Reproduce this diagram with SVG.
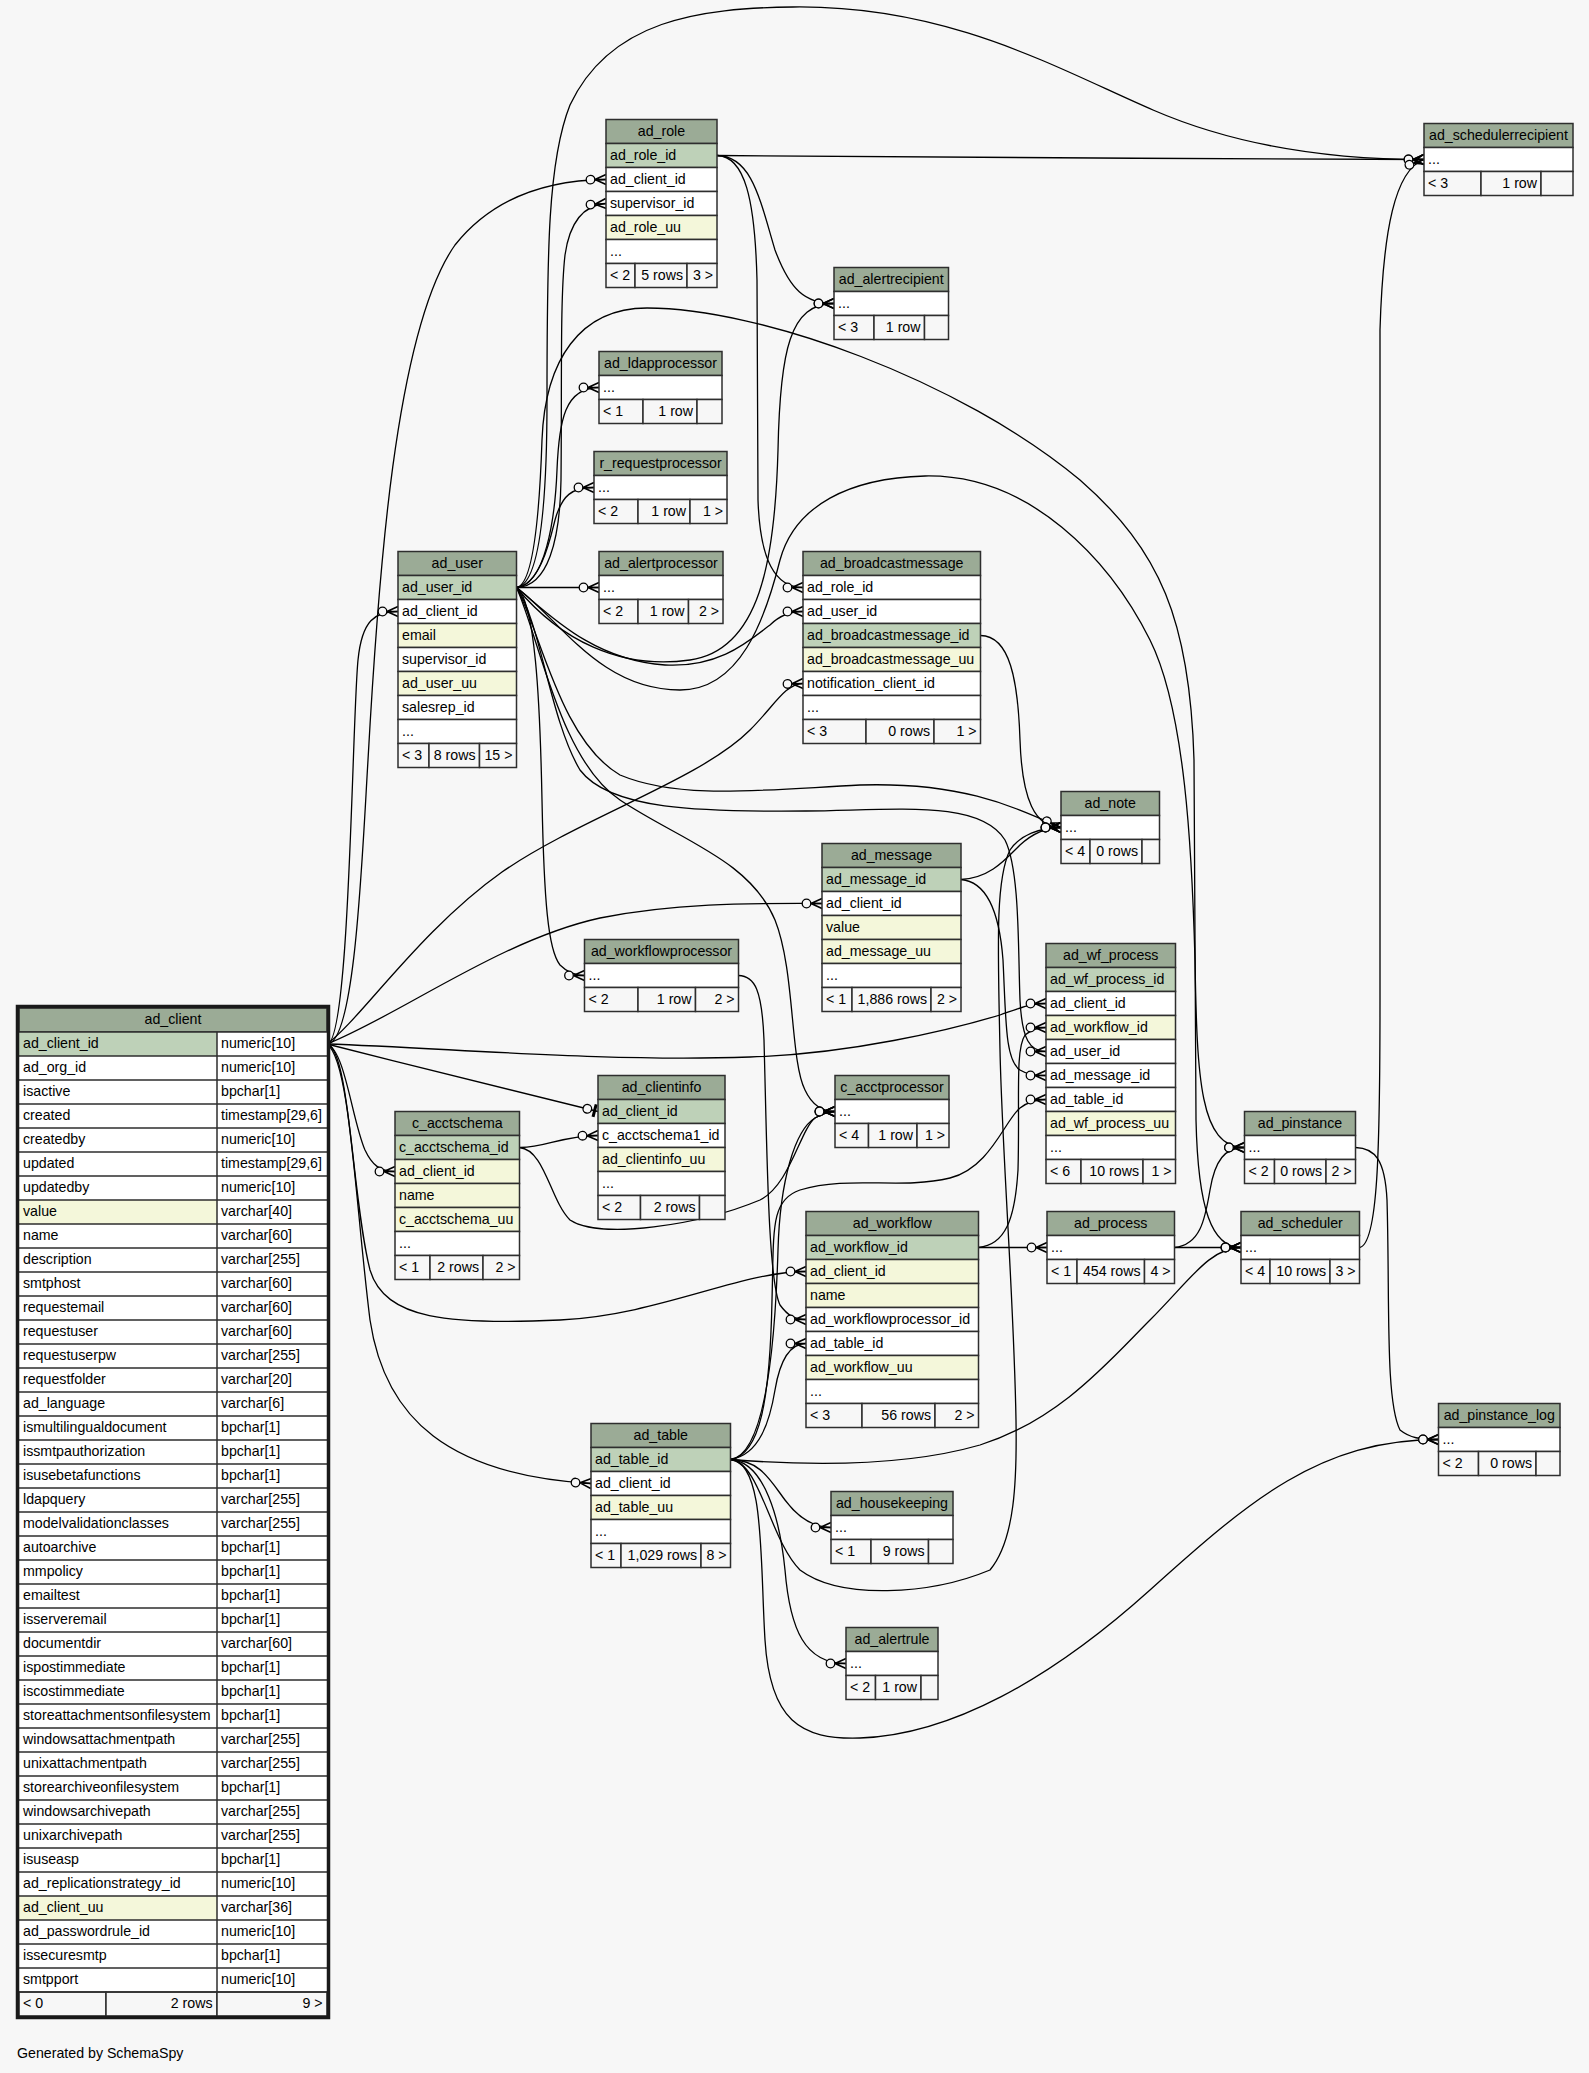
<svg xmlns="http://www.w3.org/2000/svg" width="1589" height="2073" viewBox="0 0 1589 2073">
<defs>
<style>
.h{fill:#9bab96;stroke:#2e2e2e;stroke-width:1.5}
.pk{fill:#bed1b8;stroke:#2e2e2e;stroke-width:1.5}
.ix{fill:#f4f7da;stroke:#2e2e2e;stroke-width:1.5}
.c{fill:#ffffff;stroke:#2e2e2e;stroke-width:1.5}
.f{fill:#f7f7f7;stroke:#2e2e2e;stroke-width:1.5}
.ln{fill:none;stroke:#2e2e2e;stroke-width:1.5}
text{font-family:"Liberation Sans",Arial,Helvetica,sans-serif;font-size:14.2px;fill:#000}
.m{text-anchor:middle}
.e{text-anchor:end}
#connectors path{fill:none;stroke:#000;stroke-width:1.3;marker-end:url(#crow)}
#connectors path.one{marker-end:url(#tee)}
</style>
<marker id="crow" markerUnits="userSpaceOnUse" viewBox="-22 -8 24 16" refX="0" refY="0" markerWidth="24" markerHeight="16" orient="auto">
<path d="M-11,0 L0,-5 M-11,0 L0,0 M-11,0 L0,5" fill="none" stroke="#000" stroke-width="1.6"/>
<circle cx="-15.5" cy="0" r="4.3" fill="#f7f7f7" stroke="#000" stroke-width="1.3"/>
</marker>
<marker id="tee" markerUnits="userSpaceOnUse" viewBox="-18 -8 20 16" refX="0" refY="0" markerWidth="20" markerHeight="16" orient="auto">
<path d="M-3.5,-6.5 L-3.5,6.5" stroke="#000" stroke-width="3"/>
<circle cx="-11" cy="0" r="4.3" fill="#f7f7f7" stroke="#000" stroke-width="1.3"/>
</marker>
</defs>
<rect x="0" y="0" width="1589" height="2073" fill="#f7f7f7"/>

<g id="connectors">
<path d="M327,1044 C 355,1044 362,860 368,760 C 378,580 395,330 455,245 C 495,195 550,180 606,179.5"/>
<path d="M327,1044 C 350,1044 352,720 358,660 C 362,620 375,611.5 398,611.5"/>
<path d="M327,1044 C 360,1020 420,930 502,872 C 580,818 700,780 750,730 C 775,705 785,684 803,683.5"/>
<path d="M327,1044 C 400,1015 500,940 600,918 C 680,902 760,903.5 822,903.5"/>
<path d="M327,1044 C 450,1048 600,1062 750,1057 C 850,1054 950,1030 1000,1015 C 1020,1008 1030,1003.5 1046,1003.5"/>
<path class="one" d="M327,1044 C 420,1068 520,1092 598,1111.5"/>
<path d="M327,1044 C 345,1050 352,1120 365,1150 C 372,1165 380,1171.5 395,1171.5"/>
<path d="M327,1044 C 350,1050 352,1200 370,1270 C 385,1320 450,1325 560,1320 C 660,1315 740,1271.5 806,1271.5"/>
<path d="M327,1044 C 350,1060 355,1200 370,1320 C 385,1420 450,1475 591,1483.5"/>
<path d="M516.5,587.5 C 548,587 560,540 561,480 C 562,380 560,300 565,255 C 570,220 585,205 606,203.5"/>
<path d="M516.5,587.5 C 540,585 547,500 547,400 C 547,250 548,160 570,105 C 610,20 700,8 793,7 C 950,5 1060,70 1153,110 C 1250,152 1350,159.5 1424,159.5"/>
<path d="M717,155.5 C 900,156 1200,159.5 1424,159.5"/>
<path d="M1359.5,1247.5 C 1378,1245 1380,1150 1380,1000 C 1380,700 1378,450 1380,330 C 1383,230 1395,170 1424,159.5"/>
<path d="M717,155.5 C 752,156 760,200 775,250 C 790,290 805,303.5 834,303.5"/>
<path d="M717,155.5 C 745,156 755,200 757,280 L 758,500 C 760,560 775,587.5 803,587.5"/>
<path d="M516.5,587.5 C 560,640 620,670 690,660 C 760,650 775,560 778,450 C 780,350 790,303.5 834,303.5"/>
<path d="M516.5,587.5 C 535,585 540,500 542,440 C 545,360 580,308 647,308 C 760,308 960,380 1080,480 C 1160,550 1190,620 1194,760 L 1196,1120 C 1198,1210 1212,1247.5 1241,1247.5"/>
<path d="M516.5,587.5 C 560,620 600,690 680,690 C 740,690 765,620 780,560 C 795,505 850,478 925,476 C 1030,474 1110,560 1150,640 C 1185,710 1192,850 1195,960 C 1197,1080 1200,1147.5 1244.5,1147.5"/>
<path d="M516.5,587.5 C 545,585 555,520 557,470 C 559,420 565,387.5 599,387.5"/>
<path d="M516.5,587.5 C 540,585 550,540 555,520 C 562,495 572,487.5 594,487.5"/>
<path d="M516.5,587.5 L 599,587.5"/>
<path d="M516.5,587.5 C 545,610 590,660 665,665 C 720,668 750,640 770,625 C 780,615 790,611.5 803,611.5"/>
<path d="M516.5,587.5 C 540,630 560,740 620,775 C 680,800 760,790 860,785 C 960,782 1010,805 1061,827.5"/>
<path d="M516.5,587.5 C 540,620 550,720 580,770 C 610,810 700,812 806,811 C 900,810 980,800 1005,840 C 1020,870 1018,950 1020,1000 C 1022,1040 1030,1051.5 1046,1051.5"/>
<path d="M516.5,587.5 C 540,640 560,760 620,800 C 680,840 750,860 775,920 C 795,970 790,1060 805,1090 C 812,1105 822,1111.5 835,1111.5"/>
<path d="M516.5,587.5 C 535,600 540,700 542,800 C 544,900 548,950 560,965 C 567,972 575,975.5 584.5,975.5"/>
<path d="M980.5,635.5 C 1010,636 1018,680 1020,740 C 1022,800 1035,827.5 1061,827.5"/>
<path d="M961,879.5 C 990,878 1005,860 1020,845 C 1032,834 1045,827.5 1061,827.5"/>
<path d="M961,879.5 C 990,882 1000,920 1003,960 C 1006,1020 1005,1060 1020,1070 C 1028,1075 1035,1075.5 1046,1075.5"/>
<path d="M978.5,1247.5 L 1047,1247.5"/>
<path d="M978.5,1247.5 C 1005,1245 1015,1220 1018,1170 C 1020,1100 1015,1050 1025,1035 C 1032,1029 1038,1027.5 1046,1027.5"/>
<path d="M730.5,1459.5 C 760,1462 770,1540 800,1570 C 840,1600 930,1595 990,1570 C 1015,1540 1017,1480 1016,1420 C 1014,1300 1002,1150 1000,1050 C 998,950 995,880 1010,850 C 1020,835 1040,827.5 1061,827.5"/>
<path d="M730.5,1459.5 C 760,1455 770,1400 772,1300 C 774,1230 770,1200 800,1190 C 850,1175 900,1190 950,1178 C 990,1168 1005,1120 1020,1108 C 1028,1102 1036,1099.5 1046,1099.5"/>
<path d="M730.5,1459.5 C 760,1455 770,1420 775,1390 C 780,1360 790,1343.5 806,1343.5"/>
<path d="M730.5,1459.5 C 765,1455 775,1350 778,1250 C 780,1180 795,1130 815,1118 C 822,1114 828,1111.5 835,1111.5"/>
<path d="M519.5,1147.5 C 545,1150 550,1200 570,1220 C 600,1240 700,1225 760,1200 C 790,1185 800,1130 815,1118 C 822,1114 828,1111.5 835,1111.5"/>
<path d="M519.5,1147.5 C 545,1148 560,1136 598,1135.5"/>
<path d="M738.5,975.5 C 755,976 762,990 764,1040 C 767,1150 768,1280 780,1305 C 788,1316 795,1319.5 806,1319.5"/>
<path d="M730.5,1459.5 C 760,1460 770,1480 785,1500 C 800,1520 815,1527.5 831,1527.5"/>
<path d="M730.5,1459.5 C 765,1462 780,1520 785,1570 C 790,1630 805,1663.5 846,1663.5"/>
<path d="M730.5,1459.5 C 800,1465 900,1468 980,1445 C 1060,1420 1110,1360 1150,1320 C 1190,1280 1210,1247.5 1241,1247.5"/>
<path d="M730.5,1459.5 C 765,1462 760,1560 765,1640 C 770,1720 800,1740 860,1738 C 950,1735 1050,1680 1150,1590 C 1250,1500 1320,1439.5 1438.5,1439.5"/>
<path d="M1174.5,1247.5 C 1200,1245 1205,1220 1210,1190 C 1215,1160 1225,1147.5 1244.5,1147.5"/>
<path d="M1174.5,1247.5 L 1241,1247.5"/>
<path d="M1355.5,1147.5 C 1375,1148 1385,1160 1387,1200 C 1390,1300 1385,1400 1400,1430 C 1410,1438 1420,1439.5 1438.5,1439.5"/>
</g>

<g id="ad_client">
<rect class="h" x="19" y="1008" width="308" height="24"/>
<text class="m" x="173" y="1024">ad_client</text>
<rect x="19" y="1032" width="308" height="960" fill="#ffffff"/>
<rect x="19" y="1032" width="198" height="24" fill="#bed1b8"/>
<rect x="19" y="1200" width="198" height="24" fill="#f4f7da"/>
<rect x="19" y="1896" width="198" height="24" fill="#f4f7da"/>
<rect class="f" x="19" y="1992" width="87" height="24"/>
<rect class="f" x="106" y="1992" width="111" height="24"/>
<rect class="f" x="217" y="1992" width="110" height="24"/>
<path class="ln" d="M19,1032H327M19,1056H327M19,1080H327M19,1104H327M19,1128H327M19,1152H327M19,1176H327M19,1200H327M19,1224H327M19,1248H327M19,1272H327M19,1296H327M19,1320H327M19,1344H327M19,1368H327M19,1392H327M19,1416H327M19,1440H327M19,1464H327M19,1488H327M19,1512H327M19,1536H327M19,1560H327M19,1584H327M19,1608H327M19,1632H327M19,1656H327M19,1680H327M19,1704H327M19,1728H327M19,1752H327M19,1776H327M19,1800H327M19,1824H327M19,1848H327M19,1872H327M19,1896H327M19,1920H327M19,1944H327M19,1968H327M19,1992H327M217,1032V1992"/>
<text x="23"><tspan x="23" y="1048">ad_client_id</tspan><tspan x="23" y="1072">ad_org_id</tspan><tspan x="23" y="1096">isactive</tspan><tspan x="23" y="1120">created</tspan><tspan x="23" y="1144">createdby</tspan><tspan x="23" y="1168">updated</tspan><tspan x="23" y="1192">updatedby</tspan><tspan x="23" y="1216">value</tspan><tspan x="23" y="1240">name</tspan><tspan x="23" y="1264">description</tspan><tspan x="23" y="1288">smtphost</tspan><tspan x="23" y="1312">requestemail</tspan><tspan x="23" y="1336">requestuser</tspan><tspan x="23" y="1360">requestuserpw</tspan><tspan x="23" y="1384">requestfolder</tspan><tspan x="23" y="1408">ad_language</tspan><tspan x="23" y="1432">ismultilingualdocument</tspan><tspan x="23" y="1456">issmtpauthorization</tspan><tspan x="23" y="1480">isusebetafunctions</tspan><tspan x="23" y="1504">ldapquery</tspan><tspan x="23" y="1528">modelvalidationclasses</tspan><tspan x="23" y="1552">autoarchive</tspan><tspan x="23" y="1576">mmpolicy</tspan><tspan x="23" y="1600">emailtest</tspan><tspan x="23" y="1624">isserveremail</tspan><tspan x="23" y="1648">documentdir</tspan><tspan x="23" y="1672">ispostimmediate</tspan><tspan x="23" y="1696">iscostimmediate</tspan><tspan x="23" y="1720">storeattachmentsonfilesystem</tspan><tspan x="23" y="1744">windowsattachmentpath</tspan><tspan x="23" y="1768">unixattachmentpath</tspan><tspan x="23" y="1792">storearchiveonfilesystem</tspan><tspan x="23" y="1816">windowsarchivepath</tspan><tspan x="23" y="1840">unixarchivepath</tspan><tspan x="23" y="1864">isuseasp</tspan><tspan x="23" y="1888">ad_replicationstrategy_id</tspan><tspan x="23" y="1912">ad_client_uu</tspan><tspan x="23" y="1936">ad_passwordrule_id</tspan><tspan x="23" y="1960">issecuresmtp</tspan><tspan x="23" y="1984">smtpport</tspan></text>
<text x="221"><tspan x="221" y="1048">numeric[10]</tspan><tspan x="221" y="1072">numeric[10]</tspan><tspan x="221" y="1096">bpchar[1]</tspan><tspan x="221" y="1120">timestamp[29,6]</tspan><tspan x="221" y="1144">numeric[10]</tspan><tspan x="221" y="1168">timestamp[29,6]</tspan><tspan x="221" y="1192">numeric[10]</tspan><tspan x="221" y="1216">varchar[40]</tspan><tspan x="221" y="1240">varchar[60]</tspan><tspan x="221" y="1264">varchar[255]</tspan><tspan x="221" y="1288">varchar[60]</tspan><tspan x="221" y="1312">varchar[60]</tspan><tspan x="221" y="1336">varchar[60]</tspan><tspan x="221" y="1360">varchar[255]</tspan><tspan x="221" y="1384">varchar[20]</tspan><tspan x="221" y="1408">varchar[6]</tspan><tspan x="221" y="1432">bpchar[1]</tspan><tspan x="221" y="1456">bpchar[1]</tspan><tspan x="221" y="1480">bpchar[1]</tspan><tspan x="221" y="1504">varchar[255]</tspan><tspan x="221" y="1528">varchar[255]</tspan><tspan x="221" y="1552">bpchar[1]</tspan><tspan x="221" y="1576">bpchar[1]</tspan><tspan x="221" y="1600">bpchar[1]</tspan><tspan x="221" y="1624">bpchar[1]</tspan><tspan x="221" y="1648">varchar[60]</tspan><tspan x="221" y="1672">bpchar[1]</tspan><tspan x="221" y="1696">bpchar[1]</tspan><tspan x="221" y="1720">bpchar[1]</tspan><tspan x="221" y="1744">varchar[255]</tspan><tspan x="221" y="1768">varchar[255]</tspan><tspan x="221" y="1792">bpchar[1]</tspan><tspan x="221" y="1816">varchar[255]</tspan><tspan x="221" y="1840">varchar[255]</tspan><tspan x="221" y="1864">bpchar[1]</tspan><tspan x="221" y="1888">numeric[10]</tspan><tspan x="221" y="1912">varchar[36]</tspan><tspan x="221" y="1936">numeric[10]</tspan><tspan x="221" y="1960">bpchar[1]</tspan><tspan x="221" y="1984">numeric[10]</tspan></text>
<text x="23" y="2008">&lt; 0</text><text class="e" x="212.5" y="2008">2 rows</text><text class="e" x="322.5" y="2008">9 &gt;</text>
<rect x="17.5" y="1006.5" width="311" height="1011" fill="none" stroke="#1a1a1a" stroke-width="3.5"/>
</g>

<g id="ad_role">
<rect class="h" x="606" y="119.5" width="111" height="24"/><text class="m" x="661.5" y="135.5">ad_role</text>
<rect class="pk" x="606" y="143.5" width="111" height="24"/><text x="610" y="159.5">ad_role_id</text>
<rect class="c" x="606" y="167.5" width="111" height="24"/><text x="610" y="183.5">ad_client_id</text>
<rect class="c" x="606" y="191.5" width="111" height="24"/><text x="610" y="207.5">supervisor_id</text>
<rect class="ix" x="606" y="215.5" width="111" height="24"/><text x="610" y="231.5">ad_role_uu</text>
<rect class="c" x="606" y="239.5" width="111" height="24"/><text x="610" y="255.5">...</text>
<rect class="f" x="606" y="263.5" width="29" height="24"/><rect class="f" x="635" y="263.5" width="52" height="24"/><rect class="f" x="687" y="263.5" width="30" height="24"/>
<text x="610" y="279.5">&lt; 2</text><text class="e" x="683" y="279.5">5 rows</text><text class="e" x="713" y="279.5">3 &gt;</text>
</g>

<g id="ad_ldapprocessor">
<rect class="h" x="599" y="351.5" width="123" height="24"/><text class="m" x="660.5" y="367.5">ad_ldapprocessor</text>
<rect class="c" x="599" y="375.5" width="123" height="24"/><text x="603" y="391.5">...</text>
<rect class="f" x="599" y="399.5" width="44" height="24"/><rect class="f" x="643" y="399.5" width="54" height="24"/><rect class="f" x="697" y="399.5" width="25" height="24"/>
<text x="603" y="415.5">&lt; 1</text><text class="e" x="693" y="415.5">1 row</text>
</g>

<g id="r_requestprocessor">
<rect class="h" x="594" y="451.5" width="133" height="24"/><text class="m" x="660.5" y="467.5">r_requestprocessor</text>
<rect class="c" x="594" y="475.5" width="133" height="24"/><text x="598" y="491.5">...</text>
<rect class="f" x="594" y="499.5" width="44" height="24"/><rect class="f" x="638" y="499.5" width="52" height="24"/><rect class="f" x="690" y="499.5" width="37" height="24"/>
<text x="598" y="515.5">&lt; 2</text><text class="e" x="686" y="515.5">1 row</text><text class="e" x="723" y="515.5">1 &gt;</text>
</g>

<g id="ad_alertprocessor">
<rect class="h" x="599" y="551.5" width="124" height="24"/><text class="m" x="661" y="567.5">ad_alertprocessor</text>
<rect class="c" x="599" y="575.5" width="124" height="24"/><text x="603" y="591.5">...</text>
<rect class="f" x="599" y="599.5" width="39" height="24"/><rect class="f" x="638" y="599.5" width="50.5" height="24"/><rect class="f" x="688.5" y="599.5" width="34.5" height="24"/>
<text x="603" y="615.5">&lt; 2</text><text class="e" x="684.5" y="615.5">1 row</text><text class="e" x="719" y="615.5">2 &gt;</text>
</g>

<g id="ad_user">
<rect class="h" x="398" y="551.5" width="118.5" height="24"/><text class="m" x="457.25" y="567.5">ad_user</text>
<rect class="pk" x="398" y="575.5" width="118.5" height="24"/><text x="402" y="591.5">ad_user_id</text>
<rect class="c" x="398" y="599.5" width="118.5" height="24"/><text x="402" y="615.5">ad_client_id</text>
<rect class="ix" x="398" y="623.5" width="118.5" height="24"/><text x="402" y="639.5">email</text>
<rect class="c" x="398" y="647.5" width="118.5" height="24"/><text x="402" y="663.5">supervisor_id</text>
<rect class="ix" x="398" y="671.5" width="118.5" height="24"/><text x="402" y="687.5">ad_user_uu</text>
<rect class="c" x="398" y="695.5" width="118.5" height="24"/><text x="402" y="711.5">salesrep_id</text>
<rect class="c" x="398" y="719.5" width="118.5" height="24"/><text x="402" y="735.5">...</text>
<rect class="f" x="398" y="743.5" width="31" height="24"/><rect class="f" x="429" y="743.5" width="50.5" height="24"/><rect class="f" x="479.5" y="743.5" width="37" height="24"/>
<text x="402" y="759.5">&lt; 3</text><text class="e" x="475.5" y="759.5">8 rows</text><text class="e" x="512.5" y="759.5">15 &gt;</text>
</g>

<g id="ad_broadcastmessage">
<rect class="h" x="803" y="551.5" width="177.5" height="24"/><text class="m" x="891.75" y="567.5">ad_broadcastmessage</text>
<rect class="c" x="803" y="575.5" width="177.5" height="24"/><text x="807" y="591.5">ad_role_id</text>
<rect class="c" x="803" y="599.5" width="177.5" height="24"/><text x="807" y="615.5">ad_user_id</text>
<rect class="pk" x="803" y="623.5" width="177.5" height="24"/><text x="807" y="639.5">ad_broadcastmessage_id</text>
<rect class="ix" x="803" y="647.5" width="177.5" height="24"/><text x="807" y="663.5">ad_broadcastmessage_uu</text>
<rect class="c" x="803" y="671.5" width="177.5" height="24"/><text x="807" y="687.5">notification_client_id</text>
<rect class="c" x="803" y="695.5" width="177.5" height="24"/><text x="807" y="711.5">...</text>
<rect class="f" x="803" y="719.5" width="63" height="24"/><rect class="f" x="866" y="719.5" width="68" height="24"/><rect class="f" x="934" y="719.5" width="46.5" height="24"/>
<text x="807" y="735.5">&lt; 3</text><text class="e" x="930" y="735.5">0 rows</text><text class="e" x="976.5" y="735.5">1 &gt;</text>
</g>

<g id="ad_alertrecipient">
<rect class="h" x="834" y="267.5" width="114.5" height="24"/><text class="m" x="891.25" y="283.5">ad_alertrecipient</text>
<rect class="c" x="834" y="291.5" width="114.5" height="24"/><text x="838" y="307.5">...</text>
<rect class="f" x="834" y="315.5" width="40" height="24"/><rect class="f" x="874" y="315.5" width="50.5" height="24"/><rect class="f" x="924.5" y="315.5" width="24" height="24"/>
<text x="838" y="331.5">&lt; 3</text><text class="e" x="920.5" y="331.5">1 row</text>
</g>

<g id="ad_schedulerrecipient">
<rect class="h" x="1424" y="123.5" width="149" height="24"/><text class="m" x="1498.5" y="139.5">ad_schedulerrecipient</text>
<rect class="c" x="1424" y="147.5" width="149" height="24"/><text x="1428" y="163.5">...</text>
<rect class="f" x="1424" y="171.5" width="57" height="24"/><rect class="f" x="1481" y="171.5" width="60" height="24"/><rect class="f" x="1541" y="171.5" width="32" height="24"/>
<text x="1428" y="187.5">&lt; 3</text><text class="e" x="1537" y="187.5">1 row</text>
</g>

<g id="ad_note">
<rect class="h" x="1061" y="791.5" width="98.5" height="24"/><text class="m" x="1110.25" y="807.5">ad_note</text>
<rect class="c" x="1061" y="815.5" width="98.5" height="24"/><text x="1065" y="831.5">...</text>
<rect class="f" x="1061" y="839.5" width="29" height="24"/><rect class="f" x="1090" y="839.5" width="52" height="24"/><rect class="f" x="1142" y="839.5" width="17.5" height="24"/>
<text x="1065" y="855.5">&lt; 4</text><text class="e" x="1138" y="855.5">0 rows</text>
</g>

<g id="ad_message">
<rect class="h" x="822" y="843.5" width="139" height="24"/><text class="m" x="891.5" y="859.5">ad_message</text>
<rect class="pk" x="822" y="867.5" width="139" height="24"/><text x="826" y="883.5">ad_message_id</text>
<rect class="c" x="822" y="891.5" width="139" height="24"/><text x="826" y="907.5">ad_client_id</text>
<rect class="ix" x="822" y="915.5" width="139" height="24"/><text x="826" y="931.5">value</text>
<rect class="ix" x="822" y="939.5" width="139" height="24"/><text x="826" y="955.5">ad_message_uu</text>
<rect class="c" x="822" y="963.5" width="139" height="24"/><text x="826" y="979.5">...</text>
<rect class="f" x="822" y="987.5" width="30" height="24"/><rect class="f" x="852" y="987.5" width="79" height="24"/><rect class="f" x="931" y="987.5" width="30" height="24"/>
<text x="826" y="1003.5">&lt; 1</text><text class="e" x="927" y="1003.5">1,886 rows</text><text class="e" x="957" y="1003.5">2 &gt;</text>
</g>

<g id="ad_wf_process">
<rect class="h" x="1046" y="943.5" width="129.5" height="24"/><text class="m" x="1110.75" y="959.5">ad_wf_process</text>
<rect class="pk" x="1046" y="967.5" width="129.5" height="24"/><text x="1050" y="983.5">ad_wf_process_id</text>
<rect class="c" x="1046" y="991.5" width="129.5" height="24"/><text x="1050" y="1007.5">ad_client_id</text>
<rect class="ix" x="1046" y="1015.5" width="129.5" height="24"/><text x="1050" y="1031.5">ad_workflow_id</text>
<rect class="c" x="1046" y="1039.5" width="129.5" height="24"/><text x="1050" y="1055.5">ad_user_id</text>
<rect class="c" x="1046" y="1063.5" width="129.5" height="24"/><text x="1050" y="1079.5">ad_message_id</text>
<rect class="c" x="1046" y="1087.5" width="129.5" height="24"/><text x="1050" y="1103.5">ad_table_id</text>
<rect class="ix" x="1046" y="1111.5" width="129.5" height="24"/><text x="1050" y="1127.5">ad_wf_process_uu</text>
<rect class="c" x="1046" y="1135.5" width="129.5" height="24"/><text x="1050" y="1151.5">...</text>
<rect class="f" x="1046" y="1159.5" width="35" height="24"/><rect class="f" x="1081" y="1159.5" width="62" height="24"/><rect class="f" x="1143" y="1159.5" width="32.5" height="24"/>
<text x="1050" y="1175.5">&lt; 6</text><text class="e" x="1139" y="1175.5">10 rows</text><text class="e" x="1171.5" y="1175.5">1 &gt;</text>
</g>

<g id="ad_pinstance">
<rect class="h" x="1244.5" y="1111.5" width="111" height="24"/><text class="m" x="1300" y="1127.5">ad_pinstance</text>
<rect class="c" x="1244.5" y="1135.5" width="111" height="24"/><text x="1248.5" y="1151.5">...</text>
<rect class="f" x="1244.5" y="1159.5" width="30" height="24"/><rect class="f" x="1274.5" y="1159.5" width="51.5" height="24"/><rect class="f" x="1326" y="1159.5" width="29.5" height="24"/>
<text x="1248.5" y="1175.5">&lt; 2</text><text class="e" x="1322" y="1175.5">0 rows</text><text class="e" x="1351.5" y="1175.5">2 &gt;</text>
</g>

<g id="ad_process">
<rect class="h" x="1047" y="1211.5" width="127.5" height="24"/><text class="m" x="1110.75" y="1227.5">ad_process</text>
<rect class="c" x="1047" y="1235.5" width="127.5" height="24"/><text x="1051" y="1251.5">...</text>
<rect class="f" x="1047" y="1259.5" width="30" height="24"/><rect class="f" x="1077" y="1259.5" width="67.5" height="24"/><rect class="f" x="1144.5" y="1259.5" width="30" height="24"/>
<text x="1051" y="1275.5">&lt; 1</text><text class="e" x="1140.5" y="1275.5">454 rows</text><text class="e" x="1170.5" y="1275.5">4 &gt;</text>
</g>

<g id="ad_scheduler">
<rect class="h" x="1241" y="1211.5" width="118.5" height="24"/><text class="m" x="1300.25" y="1227.5">ad_scheduler</text>
<rect class="c" x="1241" y="1235.5" width="118.5" height="24"/><text x="1245" y="1251.5">...</text>
<rect class="f" x="1241" y="1259.5" width="29" height="24"/><rect class="f" x="1270" y="1259.5" width="60" height="24"/><rect class="f" x="1330" y="1259.5" width="29.5" height="24"/>
<text x="1245" y="1275.5">&lt; 4</text><text class="e" x="1326" y="1275.5">10 rows</text><text class="e" x="1355.5" y="1275.5">3 &gt;</text>
</g>

<g id="ad_workflowprocessor">
<rect class="h" x="584.5" y="939.5" width="154" height="24"/><text class="m" x="661.5" y="955.5">ad_workflowprocessor</text>
<rect class="c" x="584.5" y="963.5" width="154" height="24"/><text x="588.5" y="979.5">...</text>
<rect class="f" x="584.5" y="987.5" width="53.5" height="24"/><rect class="f" x="638" y="987.5" width="57.5" height="24"/><rect class="f" x="695.5" y="987.5" width="43" height="24"/>
<text x="588.5" y="1003.5">&lt; 2</text><text class="e" x="691.5" y="1003.5">1 row</text><text class="e" x="734.5" y="1003.5">2 &gt;</text>
</g>

<g id="ad_clientinfo">
<rect class="h" x="598" y="1075.5" width="127" height="24"/><text class="m" x="661.5" y="1091.5">ad_clientinfo</text>
<rect class="pk" x="598" y="1099.5" width="127" height="24"/><text x="602" y="1115.5">ad_client_id</text>
<rect class="c" x="598" y="1123.5" width="127" height="24"/><text x="602" y="1139.5">c_acctschema1_id</text>
<rect class="ix" x="598" y="1147.5" width="127" height="24"/><text x="602" y="1163.5">ad_clientinfo_uu</text>
<rect class="c" x="598" y="1171.5" width="127" height="24"/><text x="602" y="1187.5">...</text>
<rect class="f" x="598" y="1195.5" width="42.5" height="24"/><rect class="f" x="640.5" y="1195.5" width="59" height="24"/><rect class="f" x="699.5" y="1195.5" width="25.5" height="24"/>
<text x="602" y="1211.5">&lt; 2</text><text class="e" x="695.5" y="1211.5">2 rows</text>
</g>

<g id="c_acctschema">
<rect class="h" x="395" y="1111.5" width="124.5" height="24"/><text class="m" x="457.25" y="1127.5">c_acctschema</text>
<rect class="pk" x="395" y="1135.5" width="124.5" height="24"/><text x="399" y="1151.5">c_acctschema_id</text>
<rect class="ix" x="395" y="1159.5" width="124.5" height="24"/><text x="399" y="1175.5">ad_client_id</text>
<rect class="ix" x="395" y="1183.5" width="124.5" height="24"/><text x="399" y="1199.5">name</text>
<rect class="ix" x="395" y="1207.5" width="124.5" height="24"/><text x="399" y="1223.5">c_acctschema_uu</text>
<rect class="c" x="395" y="1231.5" width="124.5" height="24"/><text x="399" y="1247.5">...</text>
<rect class="f" x="395" y="1255.5" width="35" height="24"/><rect class="f" x="430" y="1255.5" width="53" height="24"/><rect class="f" x="483" y="1255.5" width="36.5" height="24"/>
<text x="399" y="1271.5">&lt; 1</text><text class="e" x="479" y="1271.5">2 rows</text><text class="e" x="515.5" y="1271.5">2 &gt;</text>
</g>

<g id="c_acctprocessor">
<rect class="h" x="835" y="1075.5" width="114" height="24"/><text class="m" x="892" y="1091.5">c_acctprocessor</text>
<rect class="c" x="835" y="1099.5" width="114" height="24"/><text x="839" y="1115.5">...</text>
<rect class="f" x="835" y="1123.5" width="33.5" height="24"/><rect class="f" x="868.5" y="1123.5" width="48.5" height="24"/><rect class="f" x="917" y="1123.5" width="32" height="24"/>
<text x="839" y="1139.5">&lt; 4</text><text class="e" x="913" y="1139.5">1 row</text><text class="e" x="945" y="1139.5">1 &gt;</text>
</g>

<g id="ad_workflow">
<rect class="h" x="806" y="1211.5" width="172.5" height="24"/><text class="m" x="892.25" y="1227.5">ad_workflow</text>
<rect class="pk" x="806" y="1235.5" width="172.5" height="24"/><text x="810" y="1251.5">ad_workflow_id</text>
<rect class="ix" x="806" y="1259.5" width="172.5" height="24"/><text x="810" y="1275.5">ad_client_id</text>
<rect class="ix" x="806" y="1283.5" width="172.5" height="24"/><text x="810" y="1299.5">name</text>
<rect class="c" x="806" y="1307.5" width="172.5" height="24"/><text x="810" y="1323.5">ad_workflowprocessor_id</text>
<rect class="c" x="806" y="1331.5" width="172.5" height="24"/><text x="810" y="1347.5">ad_table_id</text>
<rect class="ix" x="806" y="1355.5" width="172.5" height="24"/><text x="810" y="1371.5">ad_workflow_uu</text>
<rect class="c" x="806" y="1379.5" width="172.5" height="24"/><text x="810" y="1395.5">...</text>
<rect class="f" x="806" y="1403.5" width="56" height="24"/><rect class="f" x="862" y="1403.5" width="73" height="24"/><rect class="f" x="935" y="1403.5" width="43.5" height="24"/>
<text x="810" y="1419.5">&lt; 3</text><text class="e" x="931" y="1419.5">56 rows</text><text class="e" x="974.5" y="1419.5">2 &gt;</text>
</g>

<g id="ad_table">
<rect class="h" x="591" y="1423.5" width="139.5" height="24"/><text class="m" x="660.75" y="1439.5">ad_table</text>
<rect class="pk" x="591" y="1447.5" width="139.5" height="24"/><text x="595" y="1463.5">ad_table_id</text>
<rect class="c" x="591" y="1471.5" width="139.5" height="24"/><text x="595" y="1487.5">ad_client_id</text>
<rect class="ix" x="591" y="1495.5" width="139.5" height="24"/><text x="595" y="1511.5">ad_table_uu</text>
<rect class="c" x="591" y="1519.5" width="139.5" height="24"/><text x="595" y="1535.5">...</text>
<rect class="f" x="591" y="1543.5" width="30" height="24"/><rect class="f" x="621" y="1543.5" width="80" height="24"/><rect class="f" x="701" y="1543.5" width="29.5" height="24"/>
<text x="595" y="1559.5">&lt; 1</text><text class="e" x="697" y="1559.5">1,029 rows</text><text class="e" x="726.5" y="1559.5">8 &gt;</text>
</g>

<g id="ad_housekeeping">
<rect class="h" x="831" y="1491.5" width="122" height="24"/><text class="m" x="892" y="1507.5">ad_housekeeping</text>
<rect class="c" x="831" y="1515.5" width="122" height="24"/><text x="835" y="1531.5">...</text>
<rect class="f" x="831" y="1539.5" width="40" height="24"/><rect class="f" x="871" y="1539.5" width="57.5" height="24"/><rect class="f" x="928.5" y="1539.5" width="24.5" height="24"/>
<text x="835" y="1555.5">&lt; 1</text><text class="e" x="924.5" y="1555.5">9 rows</text>
</g>

<g id="ad_alertrule">
<rect class="h" x="846" y="1627.5" width="92" height="24"/><text class="m" x="892" y="1643.5">ad_alertrule</text>
<rect class="c" x="846" y="1651.5" width="92" height="24"/><text x="850" y="1667.5">...</text>
<rect class="f" x="846" y="1675.5" width="29.5" height="24"/><rect class="f" x="875.5" y="1675.5" width="45.5" height="24"/><rect class="f" x="921" y="1675.5" width="17" height="24"/>
<text x="850" y="1691.5">&lt; 2</text><text class="e" x="917" y="1691.5">1 row</text>
</g>

<g id="ad_pinstance_log">
<rect class="h" x="1438.5" y="1403.5" width="121.5" height="24"/><text class="m" x="1499.25" y="1419.5">ad_pinstance_log</text>
<rect class="c" x="1438.5" y="1427.5" width="121.5" height="24"/><text x="1442.5" y="1443.5">...</text>
<rect class="f" x="1438.5" y="1451.5" width="40" height="24"/><rect class="f" x="1478.5" y="1451.5" width="57.5" height="24"/><rect class="f" x="1536" y="1451.5" width="24" height="24"/>
<text x="1442.5" y="1467.5">&lt; 2</text><text class="e" x="1532" y="1467.5">0 rows</text>
</g>

<text x="17" y="2058">Generated by SchemaSpy</text>
</svg>
